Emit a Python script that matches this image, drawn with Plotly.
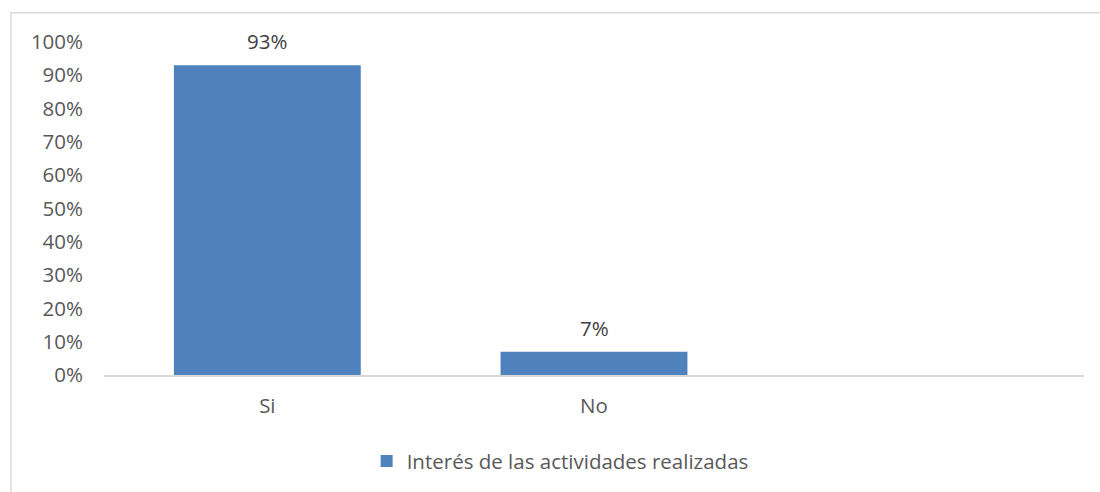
import plotly.graph_objects as go

categorias = ["Si", "No"]
valores = [0.93, 0.07]
etiquetas = ["93%", "7%"]
serie = "Interés de las actividades realizadas"

fig = go.Figure()

fig.add_trace(go.Bar(
    x=categorias, y=valores, name=serie,
    marker=dict(color="#4f81bd", line=dict(width=0)),
    width=0.572, hoverinfo="x+y",
))

# etiquetas de datos sobre cada barra
for cat, val, txt in zip(categorias, valores, etiquetas):
    fig.add_annotation(x=cat, y=val, text=txt, showarrow=False,
                       yanchor="middle", yshift=24,
                       font=dict(size=20.5, color="#404040"))

# marco del gráfico (solo borde superior e izquierdo visibles)
fig.add_shape(type="line", xref="paper", yref="paper",
              x0=-0.0949, x1=1.02, y0=1.088, y1=1.088,
              line=dict(color="#d9d9d9", width=1.5))
fig.add_shape(type="line", xref="paper", yref="paper",
              x0=-0.0949, x1=-0.0949, y0=1.088, y1=-0.36,
              line=dict(color="#d9d9d9", width=1.5))

fig.update_layout(
    width=1100, height=492,
    margin=dict(l=104, r=16, t=41.5, b=115.5),
    paper_bgcolor="white", plot_bgcolor="white",
    font=dict(family="Open Sans", size=20.5, color="#595959"),
    showlegend=True,
    legend=dict(orientation="h", x=0.268, xanchor="left", y=-0.255, yanchor="middle",
                font=dict(size=20.5, color="#595959"), itemwidth=30),
    xaxis=dict(range=[-0.5, 2.5], showgrid=False, showline=True,
               linecolor="#d9d9d9", linewidth=1.5, ticks="",
               ticklabelstandoff=12, tickfont=dict(size=20.5)),
    yaxis=dict(range=[0, 1], dtick=0.1, tickformat=".0%", showgrid=False,
               zeroline=False, showline=False, ticks="",
               ticklabelstandoff=20, tickfont=dict(size=20.5)),
)

fig.write_html(
    "out.html", config={"displayModeBar": False},
    post_script=("document.documentElement.style.overflow='hidden';"
                 "document.body.style.margin='0';document.body.style.overflow='hidden';"),
)
